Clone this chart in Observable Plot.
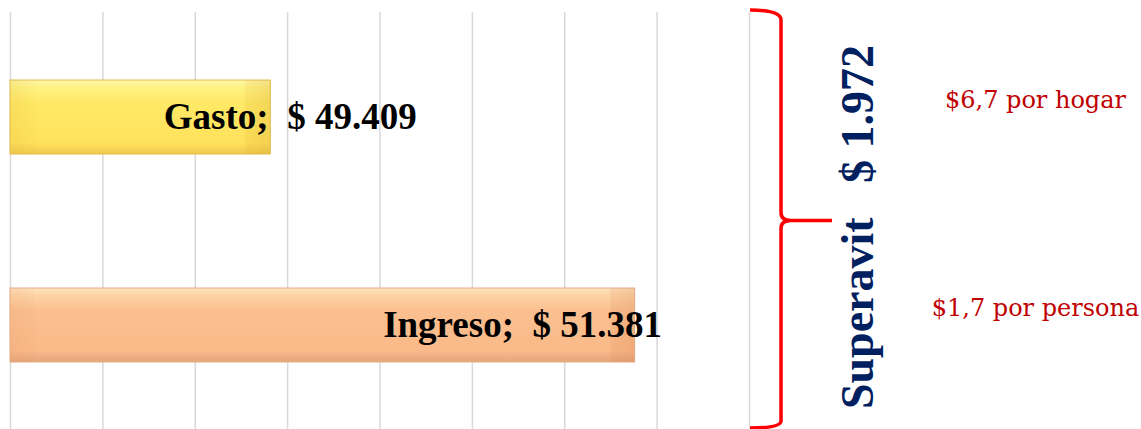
<!DOCTYPE html>
<html><head><meta charset="utf-8">
<script src="https://cdn.jsdelivr.net/npm/d3@7"></script>
<script src="https://cdn.jsdelivr.net/npm/@observablehq/plot@0.6"></script>
<style>
html,body{margin:0;padding:0;background:#fff}
#chart svg{display:block}
</style>
</head><body><div id="chart"></div>
<script>
// ---- data ----
const categories = ["Gasto", "Ingreso"];
const values = [49409, 51381];
const labelNames = ["Gasto;", "Ingreso;"];
const valueLabels = ["$ 49.409", "$ 51.381"];
const xDomain = [48000, 52000];
const xGridTicks = [48000, 48500, 49000, 49500, 50000, 50500, 51000, 51500, 52000];
const superavitLabel = "Superavit\u00a0\u00a0\u00a0$ 1.972";
const notes = ["$6,7 por hogar", "$1,7 por persona"];

const rows = categories.map((c, i) => ({
  category: c,
  value: values[i],
  label: labelNames[i] + "\u00a0\u00a0" + valueLabels[i]
}));

// gradient defs
function defs() {
  const g = d3.create("svg:g");
  const d = g.append("defs");
  const mk = (id, stops, x2, y2) => {
    const lg = d.append("linearGradient").attr("id", id)
      .attr("x1", 0).attr("y1", 0).attr("x2", x2).attr("y2", y2);
    stops.forEach(([o, c, a]) => lg.append("stop").attr("offset", o).attr("stop-color", c).attr("stop-opacity", a ?? 1));
  };
  mk("gGasto", [[0, "#fff6a8"], [0.1, "#fff384"], [0.3, "#ffe966"], [0.85, "#ffe25c"], [1, "#f0c94f"]], 0, 1);
  mk("gIngreso", [[0, "#fee3bd"], [0.1, "#fdd3a6"], [0.3, "#fbc090"], [0.85, "#fab989"], [1, "#e5a67d"]], 0, 1);
  mk("hGasto", [[0, "#d9a830", 0.16], [0.095, "#d9a830", 0.04], [0.1, "#d9a830", 0], [0.9, "#d9a830", 0], [0.905, "#c98f20", 0.10], [1, "#c98f20", 0.2]], 1, 0);
  mk("hIngreso", [[0, "#d27a45", 0.1], [0.038, "#d27a45", 0.03], [0.04, "#d27a45", 0], [0.96, "#d27a45", 0], [0.962, "#c86a35", 0.1], [1, "#c86a35", 0.18]], 1, 0);
  return g.node();
}

// red brace in the right margin
function brace(index, scales, vals, dims) {
  const x0 = dims.width - dims.marginRight;
  const top = dims.marginTop, bottom = dims.height - dims.marginBottom;
  const mid = (top + bottom) / 2;
  const p = d3.path();
  p.moveTo(x0 + 1, top - 2);
  p.quadraticCurveTo(x0 + 32, top - 2, x0 + 32, top + 8);
  p.lineTo(x0 + 32, mid - 8);
  p.quadraticCurveTo(x0 + 32, mid, x0 + 42, mid);
  p.lineTo(x0 + 83, mid);
  p.moveTo(x0 + 42, mid);
  p.quadraticCurveTo(x0 + 32, mid, x0 + 32, mid + 8);
  p.lineTo(x0 + 32, bottom - 8);
  p.quadraticCurveTo(x0 + 32, bottom - 1, x0 + 1, bottom - 1);
  const g = d3.create("svg:g");
  g.append("path").attr("d", p.toString()).attr("fill", "none")
    .attr("stroke", "#ff0000").attr("stroke-width", 3.5).attr("stroke-linejoin", "round");
  return g.node();
}

const labelStyle = {fontSize: 37, fontWeight: "bold", fontFamily: "'Liberation Serif', 'Times New Roman', serif", fill: "#000", textAnchor: "start", lineAnchor: "middle"};
const barBase = {x1: () => xDomain[0], x2: "value", y: "category", insetTop: 67, insetBottom: 67};

const chart = Plot.plot({
  width: 1141,
  height: 429,
  marginLeft: 10,
  marginRight: 392,
  marginTop: 12,
  marginBottom: 0,
  x: {domain: xDomain, axis: null},
  y: {domain: categories, padding: 0, axis: null},
  style: {background: "#fff"},
  marks: [
    defs,
    Plot.gridX(xGridTicks, {stroke: "#d9d9d9", strokeOpacity: 1, strokeWidth: 1.5}),
    Plot.barX(rows.filter(d => d.category === "Gasto"), {...barBase, fill: "url(#gGasto)", stroke: "#e2bd4c", strokeWidth: 1}),
    Plot.barX(rows.filter(d => d.category === "Gasto"), {...barBase, fill: "url(#hGasto)"}),
    Plot.barX(rows.filter(d => d.category === "Ingreso"), {...barBase, fill: "url(#gIngreso)", stroke: "#e6ae86", strokeWidth: 1}),
    Plot.barX(rows.filter(d => d.category === "Ingreso"), {...barBase, fill: "url(#hIngreso)"}),
    Plot.text(rows.filter(d => d.category === "Gasto"), {x: "value", y: "category", text: "label", dx: -107, ...labelStyle}),
    Plot.text(rows.filter(d => d.category === "Ingreso"), {x: "value", y: "category", text: "label", dx: -252, ...labelStyle}),
    brace,
    Plot.text([superavitLabel], {text: d => d, frameAnchor: "right", dx: 109, dy: 6, rotate: -90,
      fontSize: 46, fontWeight: "bold", fontFamily: "'Liberation Serif', 'Times New Roman', serif",
      fill: "#002060", textAnchor: "middle", lineAnchor: "middle"}),
    Plot.text(notes, {text: d => d, y: categories, frameAnchor: "right", dx: 286, dy: -17,
      fontSize: 24, fontFamily: "'DejaVu Serif', serif", fill: "#c00000", textAnchor: "middle", lineAnchor: "middle"})
  ]
});
document.getElementById("chart").appendChild(chart);
</script>
</body></html>
